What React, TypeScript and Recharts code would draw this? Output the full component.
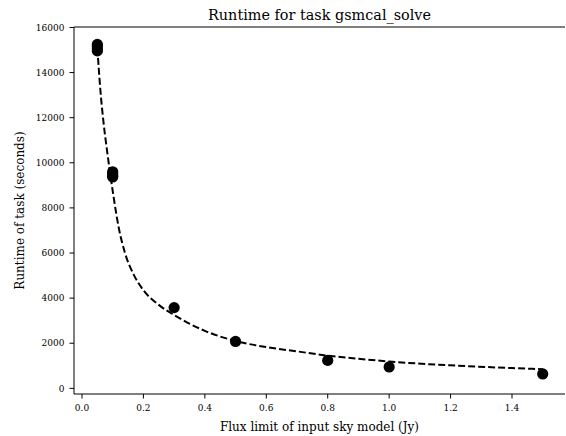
import React from 'react';
import { ComposedChart, Line, Scatter, XAxis, YAxis, ReferenceLine, Label } from 'recharts';

// measured runtimes (several runs per flux limit)
const fluxLimits = [0.05, 0.05, 0.05, 0.05, 0.1, 0.1, 0.1, 0.1, 0.3, 0.5, 0.8, 1.0, 1.5];
const runtimes = [15250, 15150, 15050, 14960, 9600, 9500, 9420, 9370, 3580, 2080, 1240, 950, 640];

// fitted curve
const fitX = [0.05, 0.06, 0.07, 0.08, 0.09, 0.1, 0.12, 0.14, 0.17, 0.2, 0.25, 0.3, 0.4, 0.5, 0.6, 0.7, 0.8, 0.9, 1.0, 1.2, 1.4, 1.5];
const fitY = [15100, 13200, 11800, 10700, 9700, 8750, 7100, 6000, 5000, 4350, 3700, 3250, 2550, 2100, 1830, 1640, 1450, 1310, 1190, 1020, 900, 850];

const xTicks = [0, 0.2, 0.4, 0.6, 0.8, 1.0, 1.2, 1.4];
const yTicks = [0, 2000, 4000, 6000, 8000, 10000, 12000, 14000, 16000];

const points = fluxLimits.map((x, i) => ({ x, y: runtimes[i] }));
const curve = fitX.map((x, i) => ({ x, y: fitY[i] }));

const FONT = '"DejaVu Serif", serif';
const Y_MAX = 16020;

const Dot = (props: any) => <circle cx={props.cx} cy={props.cy} r={5.6} fill="#000" />;

export default function App() {
    return (
        <div style={{ position: 'relative', width: 566, height: 436, fontFamily: FONT }}>
            <style>{'body{margin:0}'}</style>
            <div
                style={{
                    position: 'absolute',
                    left: 74,
                    width: 491,
                    top: 8,
                    textAlign: 'center',
                    fontSize: 14.4,
                    lineHeight: '14.4px',
                    color: '#000',
                }}
            >
                Runtime for task gsmcal_solve
            </div>
            <ComposedChart width={566} height={436} margin={{ top: 27, right: 1, bottom: 0, left: 0 }}>
                <XAxis
                    type="number"
                    dataKey="x"
                    domain={[-0.026, 1.5725]}
                    ticks={xTicks}
                    tickFormatter={(v: number) => v.toFixed(1)}
                    height={42}
                    axisLine={{ stroke: '#000', strokeWidth: 1 }}
                    tickLine={{ stroke: '#000' }}
                    tickSize={4.5}
                    tickMargin={6.5}
                    tick={{ fill: '#000', fontSize: 9, fontFamily: FONT }}
                    allowDataOverflow
                >
                    <Label
                        value="Flux limit of input sky model (Jy)"
                        position="insideBottom"
                        offset={5}
                        style={{ fill: '#000', fontSize: 12, fontFamily: FONT }}
                    />
                </XAxis>
                <YAxis
                    type="number"
                    dataKey="y"
                    domain={[-250, Y_MAX]}
                    ticks={yTicks}
                    width={74}
                    axisLine={{ stroke: '#000', strokeWidth: 1 }}
                    tickLine={{ stroke: '#000' }}
                    tickSize={4.5}
                    tickMargin={5}
                    tick={{ fill: '#000', fontSize: 9, fontFamily: FONT }}
                    allowDataOverflow
                >
                    <Label
                        value="Runtime of task (seconds)"
                        angle={-90}
                        position="insideLeft"
                        offset={20}
                        style={{ fill: '#000', fontSize: 12, fontFamily: FONT, textAnchor: 'middle' }}
                    />
                </YAxis>
                {/* top spine */}
                <ReferenceLine y={Y_MAX} stroke="#000" strokeWidth={1} ifOverflow="extendDomain" />
                <Line
                    data={curve}
                    dataKey="y"
                    type="monotone"
                    stroke="#000"
                    strokeWidth={2}
                    strokeDasharray="7 3"
                    dot={false}
                    activeDot={false}
                    isAnimationActive={false}
                />
                <Scatter data={points} dataKey="y" fill="#000" shape={Dot} isAnimationActive={false} />
            </ComposedChart>
        </div>
    );
}
